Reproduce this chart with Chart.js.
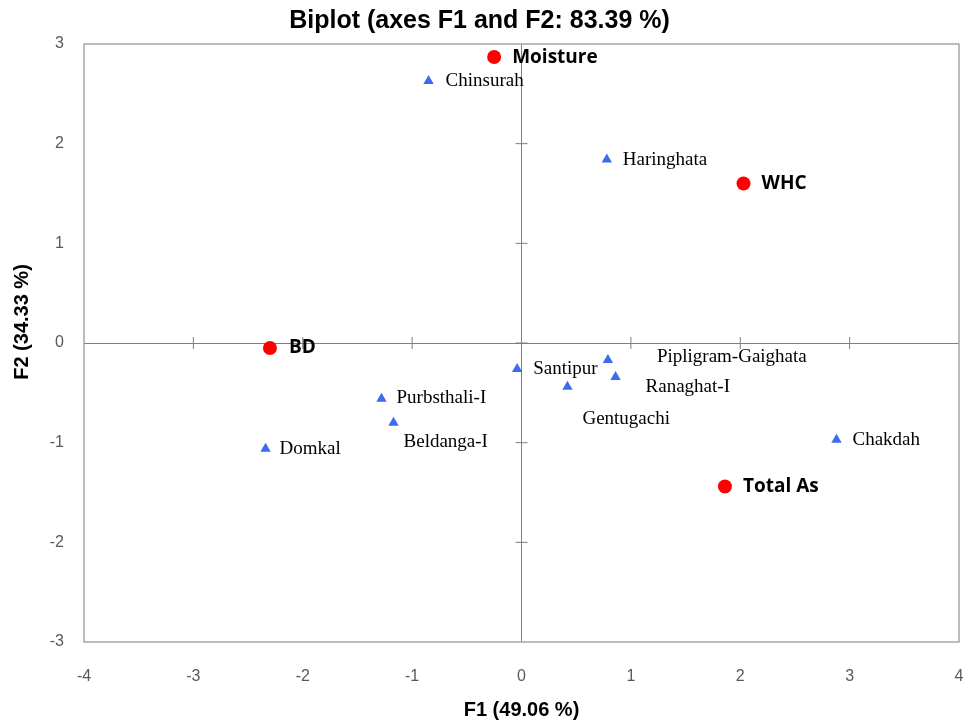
<!DOCTYPE html>
<html>
<head>
<meta charset="utf-8">
<script src="https://cdn.jsdelivr.net/npm/chart.js@4.4.1/dist/chart.umd.min.js"></script>
<style>
  html, body { margin: 0; padding: 0; background: #fff; overflow: hidden; }
  #wrap { width: 972px; height: 722px; position: relative; }
  #wrap canvas { display: block; }
</style>
</head>
<body>
<div id="wrap"><canvas id="biplot"></canvas></div>
<script>
// Observations (sites)
const obsNames = ['Chinsurah', 'Haringhata', 'Santipur', 'Pipligram-Gaighata', 'Ranaghat-I',
                  'Gentugachi', 'Purbsthali-I', 'Beldanga-I', 'Domkal', 'Chakdah'];
const obsF1 = [-0.85, 0.78, -0.04, 0.79, 0.86, 0.42, -1.28, -1.17, -2.34, 2.88];
const obsF2 = [2.63, 1.84, -0.26, -0.17, -0.34, -0.44, -0.56, -0.80, -1.06, -0.97];

// Variables
const varNames = ['Moisture', 'WHC', 'BD', 'Total As'];
const varF1 = [-0.25, 2.03, -2.30, 1.86];
const varF2 = [2.87, 1.60, -0.05, -1.44];

const xTicks = [-4, -3, -2, -1, 0, 1, 2, 3, 4];
const yTicks = [-3, -2, -1, 0, 1, 2, 3];

// label offsets from the marker, px [dx, dy]
const obsLabelOffset = [[17, 0], [16, 0], [16, 0], [49, -3], [30, 10], [15, 32], [15, -1], [10, 19], [14, 0], [16, 0]];
const varLabelOffset = [[18, 1], [18, 0], [19, 0], [18, 0]];

const toPoints = (xs, ys) => xs.map((v, i) => ({x: v, y: ys[i]}));

// box round the plot plus the small ticks on the zero lines
const frameAndAxes = {
    id: 'frameAndAxes',
    beforeDatasetsDraw(chart) {
        const {ctx, chartArea: a, scales: {x, y}} = chart;
        ctx.save();
        ctx.strokeStyle = '#a6a6a6';
        ctx.lineWidth = 1.5;
        ctx.strokeRect(a.left, a.top, a.right - a.left, a.bottom - a.top);

        ctx.strokeStyle = '#7f7f7f';
        ctx.lineWidth = 1;
        const x0 = x.getPixelForValue(0);
        const y0 = y.getPixelForValue(0);
        ctx.beginPath();
        xTicks.slice(1, -1).forEach(v => {
            const px = x.getPixelForValue(v);
            ctx.moveTo(px, y0 - 6);
            ctx.lineTo(px, y0 + 6);
        });
        yTicks.slice(1, -1).forEach(v => {
            const py = y.getPixelForValue(v);
            ctx.moveTo(x0 - 6, py);
            ctx.lineTo(x0 + 6, py);
        });
        ctx.stroke();
        ctx.restore();
    }
};

const pointLabels = {
    id: 'pointLabels',
    afterDatasetsDraw(chart) {
        const ctx = chart.ctx;
        ctx.save();
        ctx.textAlign = 'left';
        ctx.textBaseline = 'middle';
        ctx.fillStyle = '#000';
        chart.data.datasets.forEach((ds, i) => {
            const meta = chart.getDatasetMeta(i);
            ctx.font = ds.labelFont;
            meta.data.forEach((el, j) => {
                const [dx, dy] = ds.labelOffset[j];
                ctx.fillText(ds.names[j], el.x + dx, el.y + dy);
            });
        });
        ctx.restore();
    }
};

const yAxisTitle = {
    id: 'yAxisTitle',
    afterDraw(chart) {
        const ctx = chart.ctx;
        ctx.save();
        ctx.translate(22, 322);
        ctx.rotate(-Math.PI / 2);
        ctx.font = 'bold 20px "Liberation Sans", Arial, sans-serif';
        ctx.textAlign = 'center';
        ctx.textBaseline = 'middle';
        ctx.fillStyle = '#000';
        ctx.fillText('F2 (34.33 %)', 0, 0);
        ctx.restore();
    }
};

const zeroLine = ctx => (ctx.tick && ctx.tick.value === 0) ? '#7f7f7f' : 'rgba(0,0,0,0)';
const tickFont = {family: '"Liberation Sans", Arial, sans-serif', size: 16};

new Chart(document.getElementById('biplot'), {
    type: 'scatter',
    data: {
        datasets: [
            {
                label: 'Observations',
                data: toPoints(obsF1, obsF2),
                names: obsNames,
                labelOffset: obsLabelOffset,
                labelFont: '19px "Liberation Serif", "Times New Roman", serif',
                pointStyle: 'triangle',
                radius: 6,
                backgroundColor: '#3b6cf0',
                borderColor: '#3b6cf0',
                borderWidth: 0
            },
            {
                label: 'Variables',
                data: toPoints(varF1, varF2),
                names: varNames,
                labelOffset: varLabelOffset,
                labelFont: 'bold 19px "Open Sans", "Liberation Sans", sans-serif',
                pointStyle: 'circle',
                radius: 7,
                backgroundColor: '#ff0000',
                borderColor: '#ff0000',
                borderWidth: 0
            }
        ]
    },
    options: {
        responsive: true,
        maintainAspectRatio: false,
        animation: false,
        layout: {padding: {left: 0, right: 13, top: 0, bottom: 0}},
        plugins: {
            legend: {display: false},
            tooltip: {enabled: false},
            title: {
                display: true,
                text: 'Biplot (axes F1 and F2: 83.39 %)',
                color: '#000',
                font: {family: '"Liberation Sans", Arial, sans-serif', size: 25, weight: 'bold'},
                padding: {top: 6, bottom: 8}
            }
        },
        scales: {
            x: {
                type: 'linear',
                min: -4,
                max: 4,
                afterBuildTicks: s => { s.ticks = xTicks.map(v => ({value: v})); },
                afterFit: s => {
                    s.height = 80;
                    // tick padding would otherwise eat into the right side
                    s.paddingLeft = 0;
                    s.paddingRight = 0;
                },
                ticks: {color: '#595959', font: tickFont, padding: 25},
                grid: {color: zeroLine, drawTicks: false, lineWidth: 1},
                border: {display: false},
                title: {
                    display: true,
                    text: 'F1 (49.06 %)',
                    color: '#000',
                    font: {family: '"Liberation Sans", Arial, sans-serif', size: 20, weight: 'bold'},
                    padding: {top: 0, bottom: 0}
                }
            },
            y: {
                type: 'linear',
                min: -3,
                max: 3,
                afterBuildTicks: s => { s.ticks = yTicks.map(v => ({value: v})); },
                afterFit: s => { s.width = 84; },
                ticks: {color: '#595959', font: tickFont, padding: 20},
                grid: {color: zeroLine, drawTicks: false, lineWidth: 1},
                border: {display: false}
            }
        }
    },
    plugins: [frameAndAxes, pointLabels, yAxisTitle]
});
</script>
</body>
</html>
